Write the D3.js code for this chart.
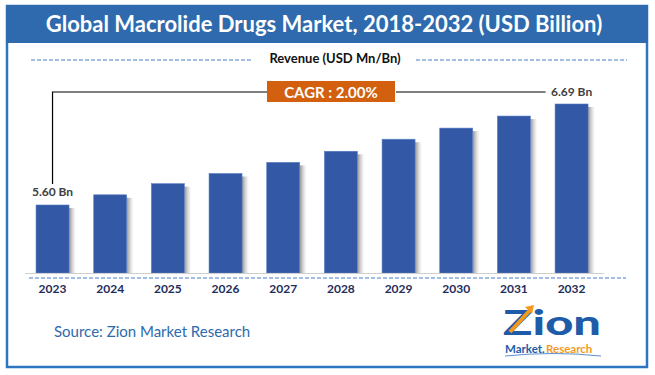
<!DOCTYPE html>
<html>
<head>
<meta charset="utf-8">
<script src="https://cdn.jsdelivr.net/npm/d3@7"></script>
<style>
  body { margin: 0; background: #fff; }
  svg { display: block; font-family: "Lato", "Open Sans", sans-serif; }
</style>
</head>
<body>
<div id="chart"></div>
<script>
// data
let years = ["2023", "2024", "2025", "2026", "2027", "2028", "2029", "2030", "2031", "2032"];
let revenue = [5.60, 5.71, 5.83, 5.94, 6.06, 6.18, 6.31, 6.43, 6.56, 6.69];
let firstLabel = "5.60 Bn";
let lastLabel = "6.69 Bn";
let cagrText = "CAGR : 2.00%";
let yDomain = [4.866, 6.69];

let width = 655;
let height = 375;

let svg = d3.select("#chart")
    .append("svg")
    .attr("width", width)
    .attr("height", height);

let defs = svg.append("defs");
let grad = defs.append("linearGradient").attr("id", "shadow");
grad.append("stop").attr("offset", "0%").attr("stop-color", "#777").attr("stop-opacity", 0.8);
grad.append("stop").attr("offset", "100%").attr("stop-color", "#bbb").attr("stop-opacity", 0);

// frame + header
svg.append("rect")
    .attr("x", 7).attr("y", 6)
    .attr("width", 640).attr("height", 361)
    .attr("fill", "#fff")
    .attr("stroke", "#2E75C0")
    .attr("stroke-width", 2.5);

svg.append("rect")
    .attr("x", 6).attr("y", 5)
    .attr("width", 642).attr("height", 38)
    .attr("fill", "#2E6AAD");

svg.append("text")
    .attr("x", 324).attr("y", 32)
    .attr("text-anchor", "middle")
    .attr("fill", "#fff")
    .style("font-size", "22px")
    .style("font-weight", "bold")
    .text("Global Macrolide Drugs Market, 2018-2032 (USD Billion)");

// subtitle with dashed lines
svg.append("text")
    .attr("x", 335).attr("y", 63)
    .attr("text-anchor", "middle")
    .attr("fill", "#111")
    .style("font-size", "13px")
    .style("font-weight", "bold")
    .text("Revenue (USD Mn/Bn)");

[[31, 252], [416, 627]].forEach(function(s) {
    svg.append("line")
        .attr("x1", s[0]).attr("x2", s[1])
        .attr("y1", 60).attr("y2", 60)
        .attr("stroke", "#4A7CC9")
        .attr("stroke-width", 1)
        .attr("stroke-dasharray", "4,2");
});

// scales
let xScale = d3.scaleBand()
    .domain(years)
    .range([23.7, 600.4])
    .paddingInner(0.428)
    .paddingOuter(0.214);

let yScale = d3.scaleLinear()
    .domain(yDomain)
    .range([273, 104]);

let baseY = yScale(yDomain[0]);

// bar shadows
svg.append("g")
    .selectAll("rect")
    .data(revenue)
    .enter().append("rect")
    .attr("x", function(d, i) { return xScale(years[i]) + xScale.bandwidth(); })
    .attr("y", function(d) { return yScale(d) + 3; })
    .attr("width", 7)
    .attr("height", function(d) { return baseY - yScale(d) - 3; })
    .attr("fill", "url(#shadow)");

// bars
svg.append("g")
    .selectAll("rect")
    .data(revenue)
    .enter().append("rect")
    .attr("x", function(d, i) { return xScale(years[i]); })
    .attr("y", function(d) { return yScale(d); })
    .attr("width", xScale.bandwidth())
    .attr("height", function(d) { return baseY - yScale(d); })
    .attr("fill", "#3358A5")
    .attr("stroke", "#5B7FC4")
    .attr("stroke-width", 0.6);

// baseline axis
let xAxis = d3.axisBottom(xScale).tickSize(0).tickPadding(11);
let axisG = svg.append("g")
    .attr("transform", `translate(0, ${baseY})`)
    .call(xAxis);
axisG.select(".domain").remove();
axisG.selectAll("text")
    .attr("fill", "#1F2D5C")
    .style("font-size", "12px")
    .style("font-weight", "bold")
    .style("font-family", "Lato, sans-serif");

svg.append("line")
    .attr("x1", 25).attr("x2", 604)
    .attr("y1", baseY + 0.5).attr("y2", baseY + 0.5)
    .attr("stroke", "#cfcfcf")
    .attr("stroke-width", 1);

svg.append("line")
    .attr("x1", 29).attr("x2", 626)
    .attr("y1", 278).attr("y2", 278)
    .attr("stroke", "#4A7CC9")
    .attr("stroke-width", 1)
    .attr("stroke-dasharray", "4,2");

// first / last value labels and CAGR connector
let firstX = xScale(years[0]) + xScale.bandwidth() / 2;
let lastX = xScale(years[years.length - 1]) + xScale.bandwidth() / 2;
let firstTop = yScale(revenue[0]);
let lastTop = yScale(revenue[revenue.length - 1]);

svg.append("text")
    .attr("x", firstX).attr("y", firstTop - 9)
    .attr("text-anchor", "middle")
    .attr("fill", "#404040")
    .style("font-size", "12px")
    .style("font-weight", "bold")
    .text(firstLabel);

svg.append("text")
    .attr("x", lastX).attr("y", lastTop - 8)
    .attr("text-anchor", "middle")
    .attr("fill", "#404040")
    .style("font-size", "12px")
    .style("font-weight", "bold")
    .text(lastLabel);

let cagrY = 92;
svg.append("path")
    .attr("d", `M${firstX},${firstTop - 21} V${cagrY} H267`)
    .attr("fill", "none")
    .attr("stroke", "#000")
    .attr("stroke-width", 1.2);

svg.append("line")
    .attr("x1", 396).attr("x2", lastX - 26)
    .attr("y1", cagrY).attr("y2", cagrY)
    .attr("stroke", "#000")
    .attr("stroke-width", 1.2);

svg.append("rect")
    .attr("x", 267).attr("y", 81)
    .attr("width", 128).attr("height", 21)
    .attr("fill", "#D2600F");

svg.append("text")
    .attr("x", 331).attr("y", 97.5)
    .attr("text-anchor", "middle")
    .attr("fill", "#fff")
    .style("font-size", "15px")
    .style("font-weight", "bold")
    .text(cagrText);

// source
svg.append("text")
    .attr("x", 54).attr("y", 337)
    .attr("fill", "#2E6AAD")
    .style("font-size", "15px")
    .text("Source: Zion Market Research");

// logo
let logo = svg.append("g").attr("transform", "translate(503, 305)");
logo.append("text")
    .attr("x", 0).attr("y", 30)
    .attr("fill", "#1E5BA8")
    .style("font-size", "34px")
    .style("font-weight", "900")
    .style("font-family", "Lato, sans-serif")
    .attr("textLength", 98)
    .attr("lengthAdjust", "spacingAndGlyphs")
    .text("Zion");
logo.append("path")
    .attr("d", "M7,27 L28,4")
    .attr("stroke", "#F39A1E")
    .attr("stroke-width", 4);
logo.append("path")
    .attr("d", "M22,2 L31,0 L29,9 Z")
    .attr("fill", "#F39A1E");
logo.append("text")
    .attr("x", 2).attr("y", 48)
    .attr("fill", "#1E5BA8")
    .style("font-size", "11.5px")
    .style("font-weight", "bold")
    .text("Market.");
logo.append("text")
    .attr("x", 43).attr("y", 48)
    .attr("fill", "#F39A1E")
    .style("font-size", "11.5px")
    .style("font-weight", "bold")
    .text("Research");
logo.append("path")
    .attr("d", "M2,51 Q50,46 98,51")
    .attr("fill", "none")
    .attr("stroke", "#5B8FD6")
    .attr("stroke-width", 1);
</script>
</body>
</html>
